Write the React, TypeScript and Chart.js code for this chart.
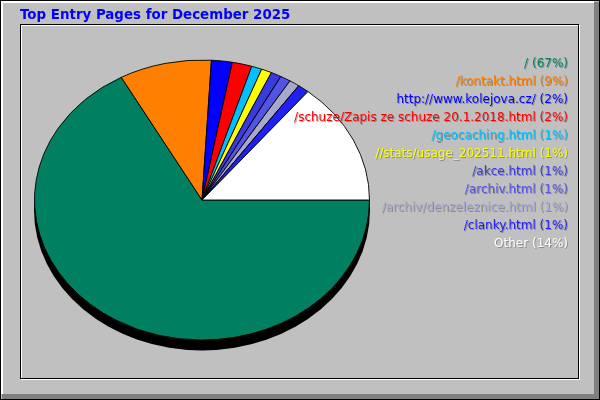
import { useEffect, useRef } from "react";
import { Chart, registerables } from "chart.js";

Chart.register(...registerables);

const chartTitle = "Top Entry Pages for December 2025";
const pageLabels = [
  "/",
  "/kontakt.html",
  "http://www.kolejova.cz/",
  "/schuze/Zapis ze schuze 20.1.2018.html",
  "/geocaching.html",
  "//stats/usage_202511.html",
  "/akce.html",
  "/archiv.html",
  "/archiv/denzeleznice.html",
  "/clanky.html",
  "Other",
];
const pageShares = [67.0, 8.9, 2.0, 1.9, 1.0, 1.0, 1.0, 1.0, 1.0, 1.1, 14.1];
const sliceColors = [
  "#008060",
  "#FF8000",
  "#0000FF",
  "#FF0000",
  "#00C0FF",
  "#FFFF00",
  "#3A3AE0",
  "#5454E4",
  "#A8A8CC",
  "#2020F0",
  "#FFFFFF",
];

const RY = 140; // vertical radius of the elliptical pie
const DEPTH = 10; // 3D depth

export default function App() {
  const ref = useRef<HTMLCanvasElement>(null);

  useEffect(() => {
    document.body.style.margin = "0";
    const canvas = ref.current;
    if (!canvas) return;
    const total = pageShares.reduce((a, b) => a + b, 0);

    const framePlugin = {
      id: "frame",
      beforeDraw(chart: any) {
        const ctx = chart.ctx as CanvasRenderingContext2D;
        const W = chart.width;
        const H = chart.height;
        ctx.save();
        ctx.fillStyle = "#C0C0C0";
        ctx.fillRect(0, 0, W, H);
        ctx.fillStyle = "#808080";
        ctx.fillRect(W - 6, 2, 6, H - 2);
        ctx.fillRect(2, H - 6, W - 2, 6);
        ctx.fillStyle = "#FFFFFF";
        ctx.fillRect(0, 0, W - 6, 3);
        ctx.fillRect(0, 0, 3, H - 6);
        ctx.strokeStyle = "#000000";
        ctx.lineWidth = 1;
        ctx.strokeRect(0.5, 0.5, W - 1, H - 1);
        // inner panel
        ctx.strokeStyle = "#FFFFFF";
        ctx.strokeRect(21.5, 25.5, 558, 354);
        ctx.strokeStyle = "#000000";
        ctx.strokeRect(20.5, 24.5, 558, 354);
        ctx.restore();
      },
      beforeDatasetsDraw(chart: any) {
        const ctx = chart.ctx as CanvasRenderingContext2D;
        const arc = chart.getDatasetMeta(0).data[0] as any;
        if (!arc) return;
        const cx = arc.x;
        const cy = arc.y;
        const r = arc.outerRadius;
        const s = RY / r;
        ctx.save();
        ctx.translate(cx, cy);
        ctx.scale(1, s);
        ctx.translate(-cx, -cy);
        ctx.fillStyle = "#000000";
        ctx.beginPath();
        ctx.arc(cx, cy + DEPTH / s, r + 0.5, 0, Math.PI * 2);
        ctx.fill();
      },
      afterDatasetsDraw(chart: any) {
        chart.ctx.restore();
      },
      afterDraw(chart: any) {
        const ctx = chart.ctx as CanvasRenderingContext2D;
        ctx.save();
        ctx.font = "bold 13.4px 'DejaVu Sans'";
        ctx.fillStyle = "#0000FF";
        ctx.textAlign = "left";
        ctx.textBaseline = "alphabetic";
        ctx.fillText(chartTitle, 20, 19);

        ctx.font = "12px 'DejaVu Sans'";
        ctx.textAlign = "right";
        ctx.textBaseline = "middle";
        const labels = chart.data.labels as string[];
        const data = chart.data.datasets[0].data as number[];
        const colors = chart.data.datasets[0].backgroundColor as string[];
        labels.forEach((lab, i) => {
          const pct = Math.round((data[i] / total) * 100);
          const text = `${lab} (${pct}%)`;
          const y = 64 + i * 18;
          ctx.fillStyle = "rgba(60,60,60,0.4)";
          ctx.fillText(text, 569, y + 1);
          ctx.fillStyle = colors[i];
          ctx.fillText(text, 568, y);
        });
        ctx.restore();
      },
    };

    const chart = new Chart(canvas, {
      type: "pie",
      data: {
        labels: pageLabels,
        datasets: [
          {
            data: pageShares,
            backgroundColor: sliceColors,
            borderColor: "#000000",
            borderWidth: 1,
            clip: false as any,
          },
        ],
      },
      options: {
        responsive: false,
        animation: false,
        devicePixelRatio: 1,
        rotation: 90,
        layout: { padding: { left: 34, right: 230, top: 32, bottom: 32 } },
        plugins: {
          legend: { display: false },
          title: { display: false },
          tooltip: { enabled: false },
        },
      },
      plugins: [framePlugin],
    });

    return () => chart.destroy();
  }, []);

  return (
    <div style={{ width: 600, height: 400 }}>
      <canvas ref={ref} width={600} height={400} />
    </div>
  );
}
